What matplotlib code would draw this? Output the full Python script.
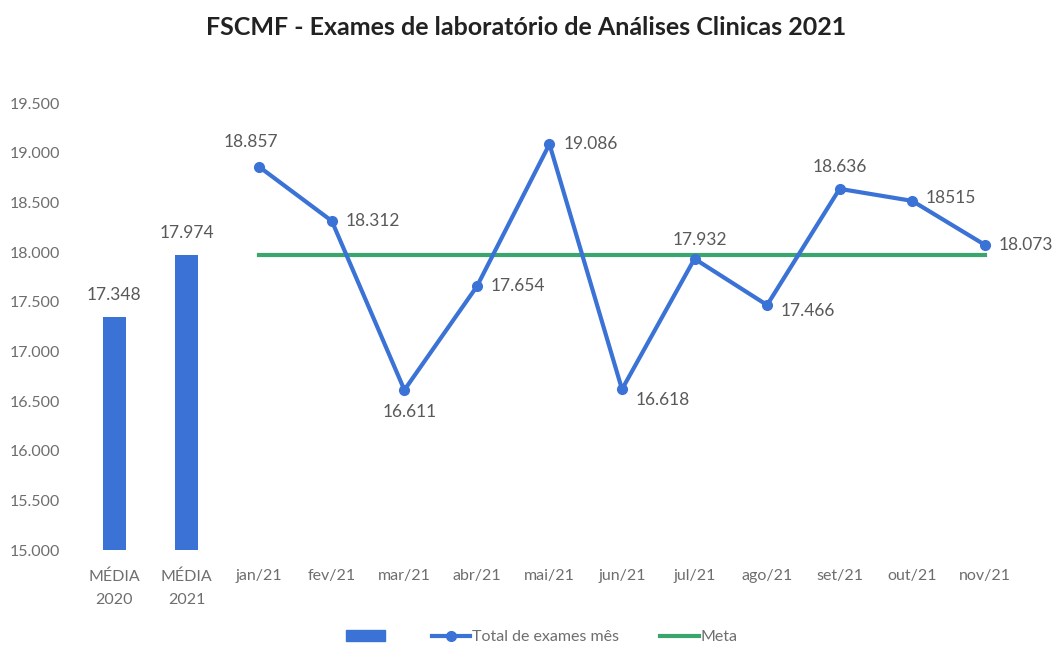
import numpy as np
import matplotlib.pyplot as plt
from matplotlib.patches import Patch
from matplotlib.lines import Line2D

plt.rcParams['font.family'] = ['Lato', 'DejaVu Sans']

# Data
bar_labels = ['MÉDIA\n2020', 'MÉDIA\n2021']
bar_values = [17348, 17974]
months = ['jan/21', 'fev/21', 'mar/21', 'abr/21', 'mai/21', 'jun/21',
          'jul/21', 'ago/21', 'set/21', 'out/21', 'nov/21']
monthly = [18857, 18312, 16611, 17654, 19086, 16618, 17932, 17466, 18636, 18515, 18073]
point_labels = ['18.857', '18.312', '16.611', '17.654', '19.086', '16.618',
                '17.932', '17.466', '18.636', '18515', '18.073']
meta = 17974
yticks = [15000, 15500, 16000, 16500, 17000, 17500, 18000, 18500, 19000, 19500]

BLUE = '#3b72d6'
GREEN = '#3aa56c'
GRAY = '#595959'
LIGHT = '#6e6e6e'

fig = plt.figure(figsize=(10.52, 6.52), dpi=100)
ax = fig.add_axes([0.0741, 0.1564, 0.8964, 0.6856])

xb = np.arange(len(bar_labels))
xm = np.arange(len(months)) + len(bar_labels)

ax.bar(xb, np.array(bar_values) - 15000, bottom=15000, width=0.32, color=BLUE)
for x, v in zip(xb, bar_values):
    ax.annotate(f'{v/1000:.3f}', (x, v), xytext=(0, 10), textcoords='offset points',
                ha='center', va='bottom', fontsize=12.5, color=GRAY)

ax.plot(xm, [meta] * len(xm), color=GREEN, lw=3)
ax.plot(xm, monthly, color=BLUE, lw=3, marker='o', ms=7)

# label offsets (points) per month
offsets = [(-6, 12, 'center', 'bottom'), (10, 0, 'left', 'center'),
           (4, -10, 'center', 'top'), (10, 0, 'left', 'center'),
           (10, 0, 'left', 'center'), (10, -8, 'left', 'center'),
           (4, 8, 'center', 'bottom'), (10, -4, 'left', 'center'),
           (0, 10, 'center', 'bottom'), (10, 2, 'left', 'center'),
           (10, 0, 'left', 'center')]
for x, v, lab, (dx, dy, ha, va) in zip(xm, monthly, point_labels, offsets):
    ax.annotate(lab, (x, v), xytext=(dx, dy), textcoords='offset points',
                ha=ha, va=va, fontsize=12.5, color=GRAY)

ax.set_xlim(-0.5, len(xb) + len(xm) - 0.5)
ax.set_ylim(15000, 19500)
ax.set_yticks(yticks)
ax.set_yticklabels([f'{t/1000:.3f}' for t in yticks])
ax.set_xticks(list(xb) + list(xm))
ax.set_xticklabels(bar_labels + months, linespacing=1.8)
ax.tick_params(length=0, labelsize=11.5, labelcolor=LIGHT, pad=14)
ax.tick_params(axis='y', pad=13)
for s in ax.spines.values():
    s.set_visible(False)

fig.suptitle('FSCMF - Exames de laboratório de Análises Clinicas 2021',
             x=0.5, y=0.975, fontsize=18, fontweight='bold', color='#222222')

handles = [Patch(color=BLUE, label=' '),
           Line2D([], [], color=BLUE, lw=3, marker='o', ms=7, label='Total de exames mês'),
           Line2D([], [], color=GREEN, lw=3, label='Meta')]
fig.legend(handles=handles, loc='lower center', bbox_to_anchor=(0.515, -0.01), ncol=3,
           frameon=False, fontsize=11.5, labelcolor=LIGHT, handlelength=2.4,
           handletextpad=0.1, columnspacing=2.6)

fig.savefig('out.png', dpi=100)
